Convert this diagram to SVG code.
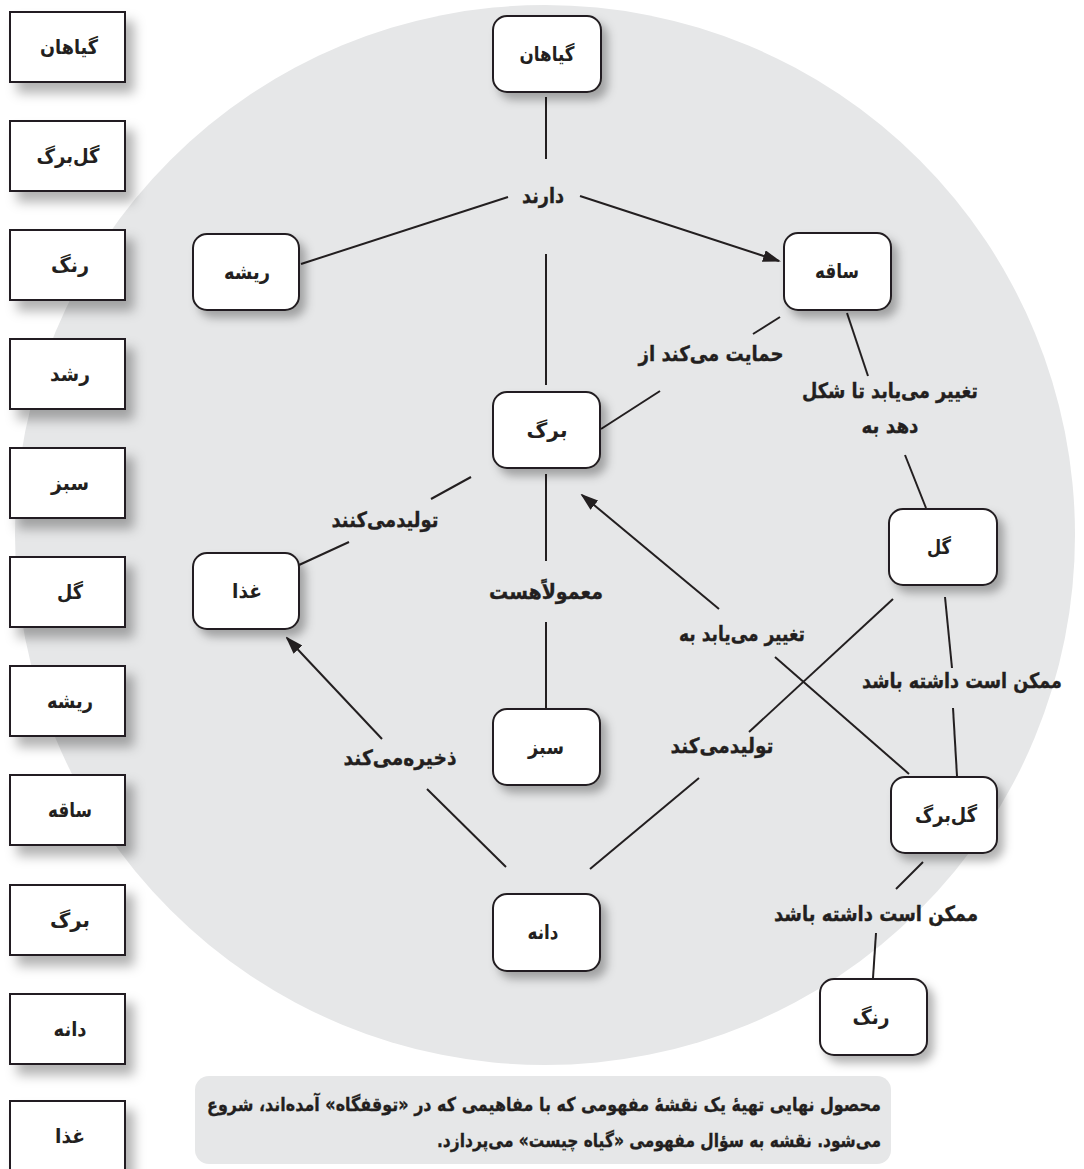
<svg xmlns="http://www.w3.org/2000/svg" width="1084" height="1169" viewBox="0 0 1084 1169">
<defs>
<style>
.bg{fill:#e6e7e8}
.col rect{fill:#fff;stroke:#231f20;stroke-width:2}
.node rect{fill:#fff;stroke:#231f20;stroke-width:2}
text{font-family:'DejaVu Sans',sans-serif;font-weight:bold;fill:#231f20;text-anchor:middle;dominant-baseline:central}
.t{font-size:20px}
.lbl{font-size:21px;stroke:#231f20;stroke-width:0.35}
.cap{font-size:19px;stroke:#231f20;stroke-width:0.3}
.con line{stroke:#231f20;stroke-width:2}
</style>
<filter id="sh1" x="-20%" y="-20%" width="160%" height="180%">
<feDropShadow dx="8" dy="10" stdDeviation="6" flood-color="#000" flood-opacity="0.3"/>
</filter>
<filter id="sh2" x="-20%" y="-20%" width="160%" height="160%">
<feDropShadow dx="6" dy="7" stdDeviation="5" flood-color="#000" flood-opacity="0.3"/>
</filter>
<marker id="arr" markerWidth="18" markerHeight="12" refX="16" refY="6" orient="auto" markerUnits="userSpaceOnUse">
<path d="M0,0 L18,6 L0,12 z" fill="#231f20"/>
</marker>
</defs>
<rect width="1084" height="1169" fill="#fff"/>
<circle class="bg" cx="545" cy="535" r="530"/>
<g id="caption">
<rect class="bg" x="195" y="1076" width="696" height="88" rx="14"/>
<text class="cap" x="544" y="1104" textLength="674" lengthAdjust="spacingAndGlyphs" direction="rtl">محصول نهایی تهیهٔ یک نقشهٔ مفهومی که با مفاهیمی که در «توقفگاه» آمده‌اند، شروع</text>
<text class="cap" x="659" y="1140" textLength="444" lengthAdjust="spacingAndGlyphs" direction="rtl">می‌شود. نقشه به سؤال مفهومی «گیاه چیست» می‌پردازد.</text>
</g>

<g id="column">
<g id="c1" class="col"><rect x="10" y="12" width="115" height="70" filter="url(#sh1)"/><text class="t" x="69" y="47" textLength="58" lengthAdjust="spacingAndGlyphs">گیاهان</text></g>
<g id="c2" class="col"><rect x="10" y="121" width="115" height="70" filter="url(#sh1)"/><text class="t" x="68" y="156" textLength="63" lengthAdjust="spacingAndGlyphs">گل‌برگ</text></g>
<g id="c3" class="col"><rect x="10" y="230" width="115" height="70" filter="url(#sh1)"/><text class="t" x="70" y="265" textLength="38" lengthAdjust="spacingAndGlyphs">رنگ</text></g>
<g id="c4" class="col"><rect x="10" y="339" width="115" height="70" filter="url(#sh1)"/><text class="t" x="70" y="374" textLength="40" lengthAdjust="spacingAndGlyphs">رشد</text></g>
<g id="c5" class="col"><rect x="10" y="448" width="115" height="70" filter="url(#sh1)"/><text class="t" x="70" y="483" textLength="38" lengthAdjust="spacingAndGlyphs">سبز</text></g>
<g id="c6" class="col"><rect x="10" y="557" width="115" height="70" filter="url(#sh1)"/><text class="t" x="70" y="592" textLength="26" lengthAdjust="spacingAndGlyphs">گل</text></g>
<g id="c7" class="col"><rect x="10" y="666" width="115" height="70" filter="url(#sh1)"/><text class="t" x="70" y="701" textLength="46" lengthAdjust="spacingAndGlyphs">ریشه</text></g>
<g id="c8" class="col"><rect x="10" y="775" width="115" height="70" filter="url(#sh1)"/><text class="t" x="70" y="810" textLength="44" lengthAdjust="spacingAndGlyphs">ساقه</text></g>
<g id="c9" class="col"><rect x="10" y="885" width="115" height="70" filter="url(#sh1)"/><text class="t" x="70" y="920" textLength="40" lengthAdjust="spacingAndGlyphs">برگ</text></g>
<g id="c10" class="col"><rect x="10" y="994" width="115" height="70" filter="url(#sh1)"/><text class="t" x="70" y="1029" textLength="33" lengthAdjust="spacingAndGlyphs">دانه</text></g>
<g id="c11" class="col"><rect x="10" y="1101" width="115" height="70" filter="url(#sh1)"/><text class="t" x="70" y="1136" textLength="30" lengthAdjust="spacingAndGlyphs">غذا</text></g>
</g>

<g id="connectors" class="con">
<line x1="546" y1="97" x2="546" y2="159"/>
<line x1="508" y1="197" x2="301" y2="264"/>
<line x1="580" y1="196" x2="779" y2="261" marker-end="url(#arr)"/>
<line x1="546" y1="254" x2="546" y2="385"/>
<line x1="780" y1="317" x2="753" y2="334"/>
<line x1="660" y1="391" x2="601" y2="429"/>
<line x1="847" y1="313" x2="868" y2="376"/>
<line x1="905" y1="455" x2="926" y2="508"/>
<line x1="471" y1="477" x2="431" y2="499"/>
<line x1="349" y1="542" x2="299" y2="565"/>
<line x1="546" y1="474" x2="546" y2="561"/>
<line x1="546" y1="622" x2="546" y2="709"/>
<line x1="382" y1="739" x2="287" y2="638" marker-end="url(#arr)"/>
<line x1="427" y1="789" x2="506" y2="867"/>
<line x1="590" y1="869" x2="699" y2="778"/>
<line x1="749" y1="732" x2="893" y2="599"/>
<line x1="909" y1="774" x2="775" y2="657"/>
<line x1="719" y1="609" x2="582" y2="495" marker-end="url(#arr)"/>
<line x1="945" y1="597" x2="952" y2="668"/>
<line x1="953" y1="708" x2="957" y2="776"/>
<line x1="923" y1="862" x2="896" y2="889"/>
<line x1="876" y1="933" x2="873" y2="978"/>
</g>

<g id="labels">
<text class="lbl" x="543" y="196" textLength="42" lengthAdjust="spacingAndGlyphs">دارند</text>
<text class="lbl" x="711" y="354" textLength="145" lengthAdjust="spacingAndGlyphs">حمایت می‌کند از</text>
<text class="lbl" x="890" y="391" textLength="176" lengthAdjust="spacingAndGlyphs">تغییر می‌یابد تا شکل</text>
<text class="lbl" x="890" y="426" textLength="57" lengthAdjust="spacingAndGlyphs">دهد به</text>
<text class="lbl" x="385" y="520" textLength="107" lengthAdjust="spacingAndGlyphs">تولیدمی‌کنند</text>
<text class="lbl" x="546" y="592" textLength="114" lengthAdjust="spacingAndGlyphs">معمولاًهست</text>
<text class="lbl" x="742" y="634" textLength="126" lengthAdjust="spacingAndGlyphs">تغییر می‌یابد به</text>
<text class="lbl" x="962" y="681" textLength="200" lengthAdjust="spacingAndGlyphs">ممکن است داشته باشد</text>
<text class="lbl" x="400" y="758" textLength="113" lengthAdjust="spacingAndGlyphs">ذخیره‌می‌کند</text>
<text class="lbl" x="722" y="746" textLength="103" lengthAdjust="spacingAndGlyphs">تولیدمی‌کند</text>
<text class="lbl" x="876" y="914" textLength="204" lengthAdjust="spacingAndGlyphs">ممکن است داشته باشد</text>
</g>

<g id="n-giahan" class="node"><rect x="493" y="16" width="108" height="76" rx="14" filter="url(#sh2)"/><text class="t" x="547" y="54" textLength="55" lengthAdjust="spacingAndGlyphs">گیاهان</text></g>
<g id="n-risheh" class="node"><rect x="193" y="234" width="106" height="76" rx="14" filter="url(#sh2)"/><text class="t" x="247" y="272" textLength="46" lengthAdjust="spacingAndGlyphs">ریشه</text></g>
<g id="n-saqeh" class="node"><rect x="784" y="233" width="107" height="77" rx="14" filter="url(#sh2)"/><text class="t" x="837" y="271" textLength="44" lengthAdjust="spacingAndGlyphs">ساقه</text></g>
<g id="n-barg" class="node"><rect x="493" y="392" width="107" height="76" rx="14" filter="url(#sh2)"/><text class="t" x="547" y="430" textLength="41" lengthAdjust="spacingAndGlyphs">برگ</text></g>
<g id="n-ghaza" class="node"><rect x="193" y="553" width="106" height="76" rx="14" filter="url(#sh2)"/><text class="t" x="247" y="591" textLength="30" lengthAdjust="spacingAndGlyphs">غذا</text></g>
<g id="n-sabz" class="node"><rect x="493" y="709" width="107" height="76" rx="14" filter="url(#sh2)"/><text class="t" x="546" y="747" textLength="36" lengthAdjust="spacingAndGlyphs">سبز</text></g>
<g id="n-daneh" class="node"><rect x="493" y="894" width="107" height="77" rx="14" filter="url(#sh2)"/><text class="t" x="543" y="932" textLength="31" lengthAdjust="spacingAndGlyphs">دانه</text></g>
<g id="n-gol" class="node"><rect x="889" y="509" width="108" height="76" rx="14" filter="url(#sh2)"/><text class="t" x="939" y="547" textLength="24" lengthAdjust="spacingAndGlyphs">گل</text></g>
<g id="n-golbarg" class="node"><rect x="891" y="777" width="106" height="76" rx="14" filter="url(#sh2)"/><text class="t" x="946" y="815" textLength="62" lengthAdjust="spacingAndGlyphs">گل‌برگ</text></g>
<g id="n-rang" class="node"><rect x="820" y="979" width="107" height="76" rx="14" filter="url(#sh2)"/><text class="t" x="871" y="1017" textLength="37" lengthAdjust="spacingAndGlyphs">رنگ</text></g>
</svg>
